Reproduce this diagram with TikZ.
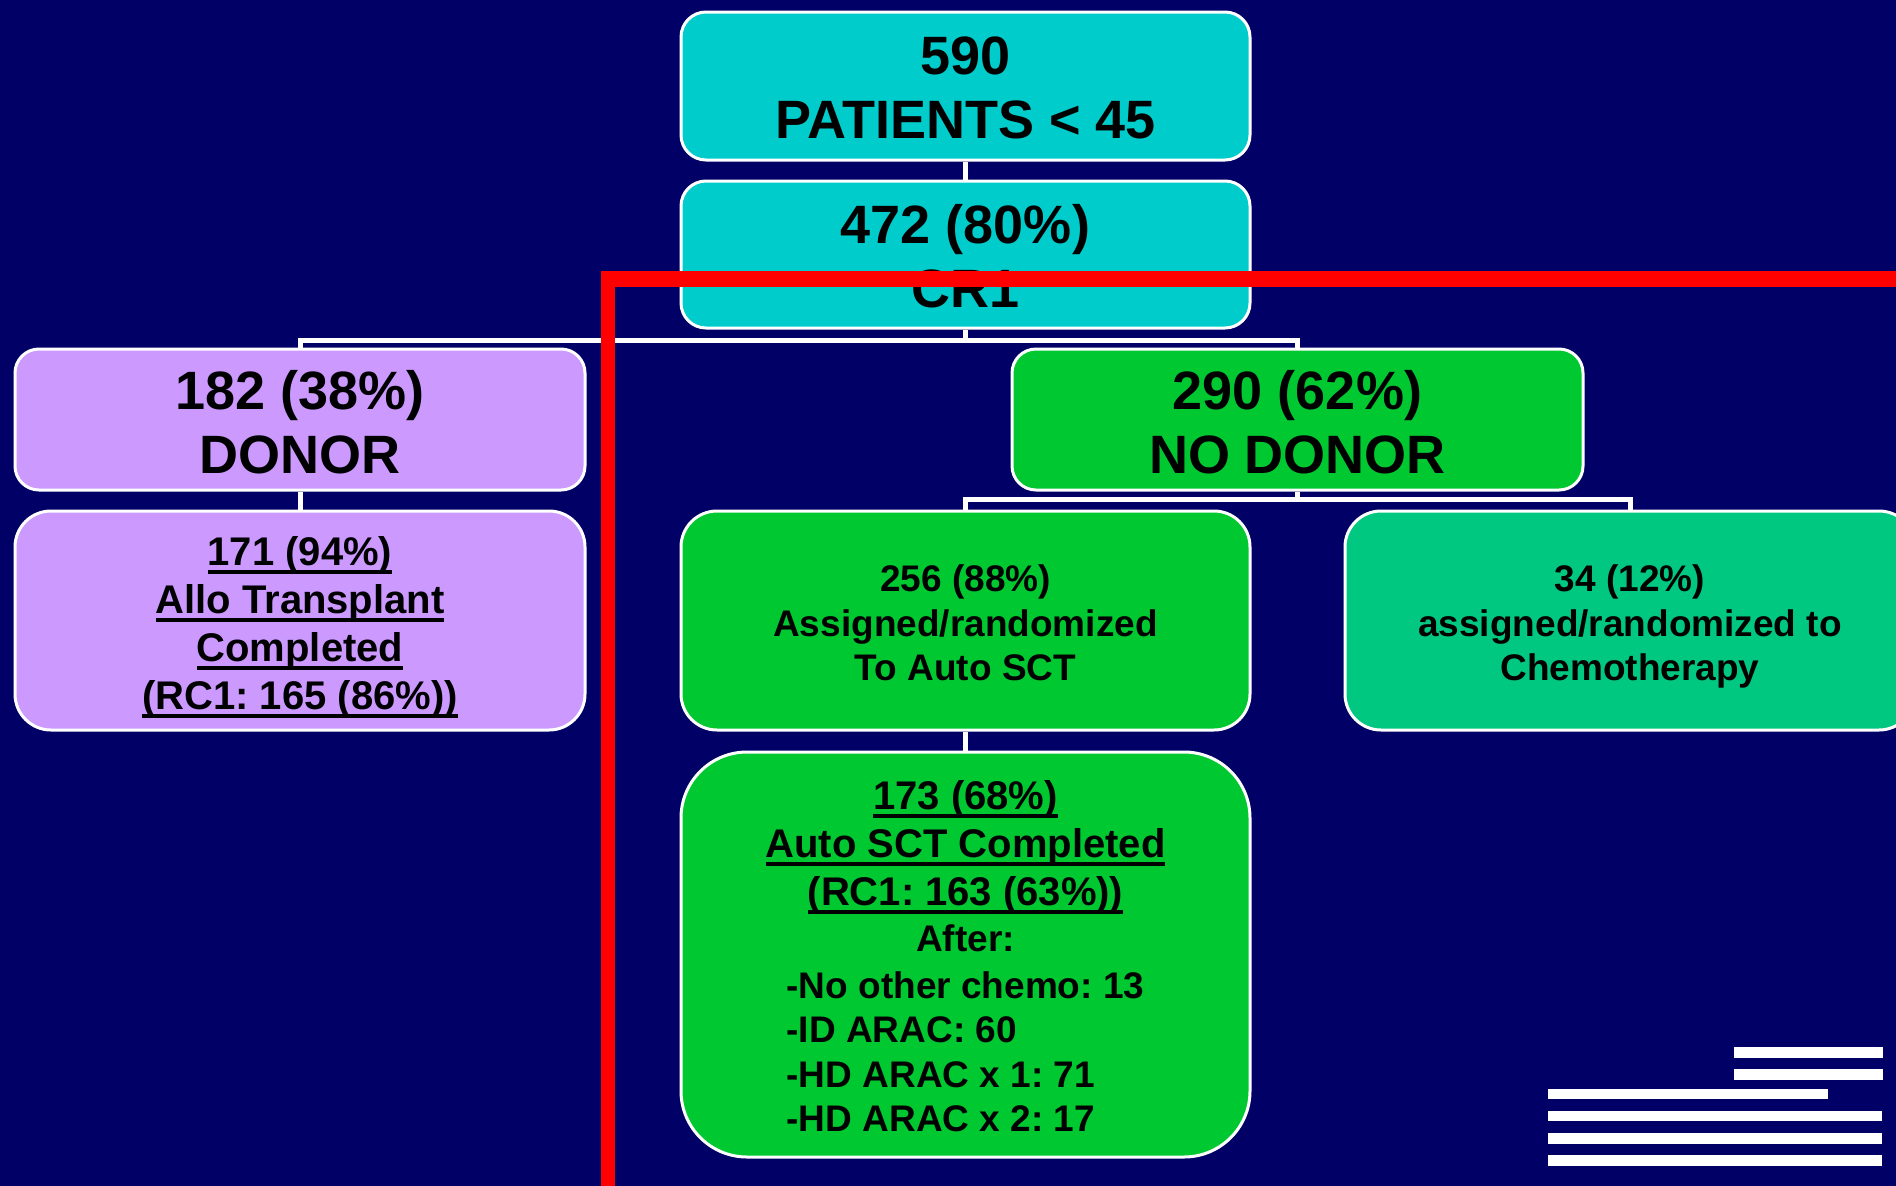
\documentclass[tikz,border=0pt]{standalone}
\usepackage{fontspec}
\setmainfont{Liberation Sans}
\frenchspacing
\definecolor{navybg}{RGB}{0,0,102}
\definecolor{cyanbox}{RGB}{0,204,204}
\definecolor{purplebox}{RGB}{204,153,255}
\definecolor{greenbox}{RGB}{0,200,48}
\definecolor{chemobox}{RGB}{0,200,128}
\definecolor{redline}{RGB}{255,0,0}
\newcommand\ulx[1]{\setbox0\hbox{#1}\rlap{\rule[-8.5pt]{\wd0}{4pt}}\box0}
\tikzset{
  box/.style={draw=white, line width=3pt, minimum width=569pt, inner sep=0pt},
  txt/.style={text=black, align=center, inner sep=0pt},
  bigtxt/.style={txt, font=\bfseries\fontsize{54}{64}\selectfont},
  midtxt/.style={txt, font=\bfseries\fontsize{40}{48}\selectfont},
  smalltxt/.style={txt, font=\bfseries\fontsize{37}{44.5}\selectfont},
  conn/.style={draw=white, line width=5pt},
}
\begin{document}
\begin{tikzpicture}[x=1pt,y=-1pt]
\useasboundingbox (0,0) rectangle (1896,1186);
\fill[navybg] (0,0) rectangle (1896,1186);

\coordinate (j1) at (965.5,340);
\coordinate (j2) at (965.5,499);

% boxes
\node[box, fill=cyanbox, rounded corners=25pt, minimum height=148pt] (top) at (965.5,86) {};
\node[box, fill=cyanbox, rounded corners=25pt, minimum height=147pt] (cr) at (965.5,254.5) {};
\node[box, fill=purplebox, rounded corners=24pt, minimum height=141pt, minimum width=570pt] (donor) at (300,419.5) {};
\node[box, fill=purplebox, rounded corners=36pt, minimum height=219pt, minimum width=570pt] (allo) at (300,620.5) {};
\node[box, fill=greenbox, rounded corners=24pt, minimum height=141pt, minimum width=571pt] (nodonor) at (1297.5,419.5) {};
\node[box, fill=greenbox, rounded corners=36pt, minimum height=219pt] (auto) at (965.5,620.5) {};
\node[box, fill=chemobox, rounded corners=36pt, minimum height=219pt, minimum width=570pt] (chemo) at (1630,620.5) {};
\node[box, fill=greenbox, rounded corners=66pt, minimum height=405pt] (final) at (965.5,954.5) {};

% connectors
\draw[conn] (top.south) -- (cr.north);
\draw[conn] (cr.south) -- (j1);
\draw[conn] (donor.north) -- (donor.north |- j1) -| (nodonor.north);
\draw[conn] (donor.south) -- (allo.north);
\draw[conn] (nodonor.south) -- (nodonor.south |- j2);
\draw[conn] (auto.north) -- (auto.north |- j2) -| (chemo.north);
\draw[conn] (auto.south) -- (final.north);

% texts
\node[bigtxt, yshift=-2.4pt] (toptxt) at (top.center) {590\\PATIENTS < 45};
\node[bigtxt, yshift=-1.2pt] (crtxt) at (cr.center) {472 (80\%)\\CR1};
\node[bigtxt, yshift=-2.4pt] (donortxt) at (donor.center) {182 (38\%)\\DONOR};
\node[midtxt, yshift=-6.6pt] (allotxt) at (allo.center) {\ulx{171 (94\%)}\\\ulx{Allo Transplant}\\\ulx{Completed}\\\ulx{(RC1: 165 (86\%))}};
\node[bigtxt, yshift=-2.4pt] (nodonortxt) at (nodonor.center) {290 (62\%)\\NO DONOR};
\node[smalltxt, yshift=-2.4pt] (autotxt) at (auto.center) {256 (88\%)\\Assigned/randomized\\To Auto SCT};
\node[smalltxt, yshift=-2.4pt] (chemotxt) at (chemo.center) {34 (12\%)\\assigned/randomized to\\\smash{Chemotherapy}};
\node[midtxt, yshift=-8pt] (finaltxt) at (final.center) {\ulx{173 (68\%)}\\\ulx{Auto SCT Completed}\\\ulx{(RC1: 163 (63\%))}\\[-1.5pt]{\fontsize{37}{44.5}\selectfont After:}\\[-1.5pt]{\fontsize{37}{44.5}\selectfont\begin{tabular}[t]{@{}l@{}}-No other chemo: 13\\-ID ARAC: 60\\-HD ARAC x 1: 71\\-HD ARAC x 2: 17\end{tabular}}};

% decoration lines bottom right
\fill[white] (1734,1047) rectangle (1883,1058);
\fill[white] (1734,1069) rectangle (1883,1080);
\fill[white] (1548,1089) rectangle (1828,1099);
\fill[white] (1548,1111) rectangle (1882,1121);
\fill[white] (1548,1133) rectangle (1882,1144);
\fill[white] (1548,1155) rectangle (1882,1166);

% red L overlay
\fill[redline] (601,271) rectangle (615,1186);
\fill[redline] (601,271) rectangle (1896,287);
\end{tikzpicture}
\end{document}
